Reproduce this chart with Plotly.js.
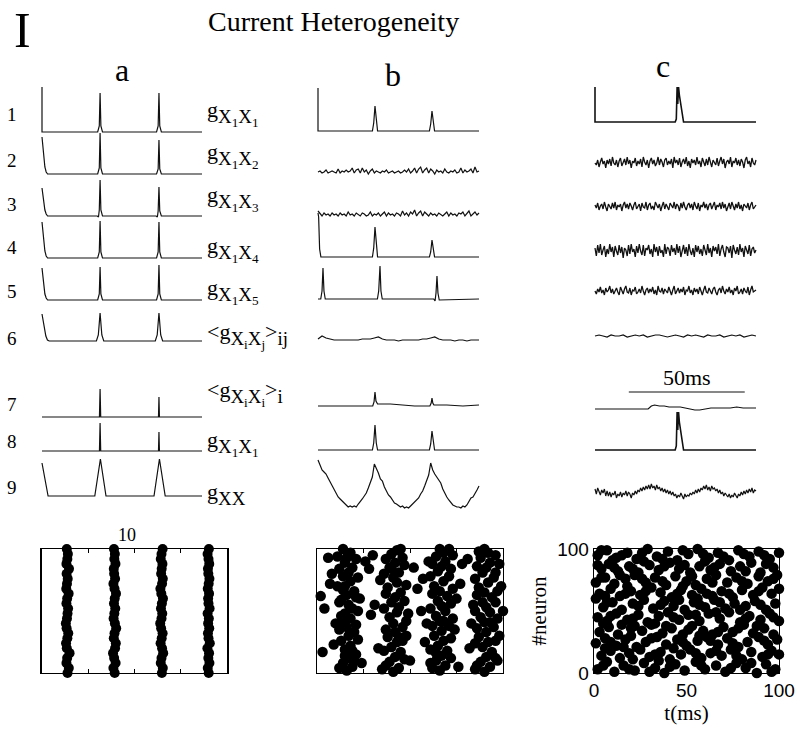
<!DOCTYPE html>
<html><head><meta charset="utf-8">
<script src="https://cdn.plot.ly/plotly-3.0.1.min.js"></script>
<style>body{margin:0;background:#fff}#chart{width:800px;height:735px}</style>
</head><body><div id="chart"></div>
<script>
// ================= DATA =================
const figureLetter = 'I';
const figureTitle = 'Current Heterogeneity';
const columnLetters = ['a','b','c'];
const rowNumbers = ['1','2','3','4','5','6','7','8','9'];
const conductanceLabels = [
  'g<sub>X<sub>1</sub>X<sub>1</sub></sub>',
  'g<sub>X<sub>1</sub>X<sub>2</sub></sub>',
  'g<sub>X<sub>1</sub>X<sub>3</sub></sub>',
  'g<sub>X<sub>1</sub>X<sub>4</sub></sub>',
  'g<sub>X<sub>1</sub>X<sub>5</sub></sub>',
  '&lt;g<sub>X<sub>i</sub>X<sub>j</sub></sub>&gt;<sub>ij</sub>',
  '&lt;g<sub>X<sub>i</sub>X<sub>i</sub></sub>&gt;<sub>i</sub>',
  'g<sub>X<sub>1</sub>X<sub>1</sub></sub>',
  'g<sub>XX</sub>'
];
const rasterALabel = '10';
const scaleBarLabel = '50ms';
const scaleBarStart = 21, scaleBarEnd = 93;   // in column-c time units
const rasterXTicks = [0,50,100];
const rasterYTicks = [0,100];
const rasterXTitle = 't(ms)';
const rasterYTitle = '#neuron';

// ---- column a (time 0-100, conductance in arbitrary units) ----
const a1_t = [0,0,34.8,35.8,36.3,36.8,37.8,71.6,72.6,73.1,73.6,74.6,100];
const a1_g = [45,0,0,6,39,6,0,0,6,39,6,0,0];
const a2_t = [0,0.6,1.2,1.8,2.6,3.5,34.8,35.8,36.3,36.8,37.8,71.6,72.6,73.1,73.6,74.6,100];
const a2_g = [37,26,15,7,2,0,0,6,41,6,0,0,5,34,5,0,0];
const a3_t = [0,0.6,1.2,1.8,2.6,3.5,34.5,35.3,35.8,36.3,36.8,37.8,71.3,72.1,72.6,73.1,73.6,74.6,100];
const a3_g = [28,20,12,6,2,0,0,-1,6,36,6,0,0,-1,5,29,5,0,0];
const a4_t = [0,0.6,1.2,1.8,2.6,3.5,34.8,35.8,36.3,36.8,37.8,71.6,72.6,73.1,73.6,74.6,100];
const a4_g = [36,26,15,7,2,0,0,6,37,6,0,0,6,36,6,0,0];
const a5_t = [0,0.6,1.2,1.8,2.6,3.5,34.8,35.8,36.3,36.8,37.8,71.6,72.6,73.1,73.6,74.6,100];
const a5_g = [32,23,13,6,2,0,0,6,33,6,0,0,6,35,6,0,0];
const a6_t = [0,0.8,1.6,2.4,3.4,4.5,34,35.2,36.3,37.4,38.6,70.8,72,73.1,74.2,75.4,100];
const a6_g = [27,19,11,5,1,0,0,6,28,6,0,0,6,28,6,0,0];
const a7_t = [0,35.9,36.3,36.7,72.8,73.1,73.4,100];
const a7_g = [0,0,28,0,0,20,0,0];
const a8_t = [0,35.9,36.3,36.7,72.8,73.1,73.4,100];
const a8_g = [0,0,28,0,0,19,0,0];
const a9_t = [0,3.8,33,36.5,40,70,73.4,77,100];
const a9_g = [33,0,0,37,0,0,37,0,0];

// ---- column b ----
const b1_t = [0,0,33.8,34.6,35.4,36.2,37,69.2,70,70.8,71.6,72.4,100];
const b1_g = [43,0,0,8,25,8,0,0,7,20,7,0,0];
const b2_dt = 1.25;
const b2_g = [0,1,-1,0,2,-1,0,1,0,-1, 3,-1,1,0,2,0,1,4,-1,2, 3,-1,4,0,2,-2,1,3,-1,1,
  0,-1,1,0,2,-1,0,1,-1,0, 1,-1,0,2,0,3,-1,1,4,-1, 3,5,-1,2,4,-1,3,1,-2,2,
  0,1,-1,3,0,-1,1,0,2,-1, 0,4,-1,2,0,1,3,-1,5,0, 1];
const b3_dt = 1.25;
const b3_g = [4,1,-1,2,0,1,-1,2,0,1, -1,2,0,1,-1,3,0,1,-1,2, 0,-1,2,1,-1,0,3,-1,1,0,
  2,-1,1,3,-1,2,0,1,-1,2, 1,-1,4,0,2,-1,3,1,5,-1, 2,4,-1,3,1,-1,2,0,1,-1,
  2,0,-1,1,3,-1,2,0,1,-1, 2,1,3,-1,2,4,-1,1,3,0, 2];
const b4_t = [0,0.4,1,1.8,33.8,34.6,35.4,36.2,37,69.2,70,70.8,71.6,72.4,100];
const b4_g = [44,40,8,0,0,9,30,9,0,0,5,17,5,0,0];
const b5_t = [0,1.7,2.5,3.1,3.7,4.5,36.9,37.7,38.5,39.1,39.9,71.9,72.7,73.3,73.9,74.5,75.3,100];
const b5_g = [0,0,8,31,8,0,0,8,33,8,0,0,-2,6,23,6,-1,0];
const b6_dt = 2.5;
const b6_g = [1,4,2,1,0,0,0,0,0,0,0,1,1,1,2,3,1,0,0,0,-1,0,0,0,0,0,1,1,2,3,1,0,0,0,-1,0,0,-1,0,0,0];
const b7_t = [0,34,34.8,35.4,36,37,45,55,60,69.5,70.3,70.8,71.3,72,80,90,100];
const b7_g = [0,0,4,14,5,2,2,1,0,0,3,8,3,1,1,0,1];
const b8_t = [0,33.8,34.6,35.4,36.2,37,69.2,70,70.8,71.6,72.4,100];
const b8_g = [0,0,7,25,7,0,0,6,19,6,0,0];
const b9_dt = 1.25;
const b9_g = [48,42,38,36,34,30,26,22,18,15,
  11,9,7,4,2,1,2,1,2,1,
  4,6,9,12,15,20,25,31,44,40,
  35,29,27,21,16,13,11,8,5,4,
  2,1,2,0,1,0,2,4,5,8,
  10,14,17,22,27,33,45,38,34,31,
  29,25,19,14,11,8,5,3,2,1,
  1,0,2,1,3,6,10,11,14,18,
  22];

// ---- column c ----
const c1_t = [0,0,1,49.8,50.5,51.0,51.4,51.9,52.4,53.1,54.0,55.0,100];
const c1_g = [35,0,0,0,3,35,18,35,27,20,8,0,0];
const c2_dt = 100/120;
const c2_g = [0,-2,3,-4,1,5,-1,2,-5,3, -1,4,-3,6,0,-2,3,-4,2,5, -3,1,4,-2,6,-1,3,-5,2,0,
  5,-3,2,-1,4,-4,6,1,-2,3, -5,2,5,-1,3,-3,0,6,-2,4, 1,-4,3,5,-2,2,-1,4,-5,6,
  0,3,-2,5,-4,1,4,-1,6,-3, 2,-5,4,0,3,-2,6,-1,2,-4, 5,1,-3,4,-2,6,0,-4,3,1,
  -2,5,-3,2,6,-1,4,-5,1,3, -1,6,-4,2,0,5,-2,3,-3,4, 1,-5,3,6,-1,2,-4,5,0,-2, 3];
const c3_dt = 100/120;
const c3_g = [2,-1,4,-3,1,3,-2,5,0,-4, 3,1,-2,4,-1,5,-3,2,0,3, -4,2,5,-1,3,-2,4,1,-3,2,
  5,-2,1,3,-4,4,0,-1,5,-3, 2,4,-2,1,-3,5,2,-1,3,-4, 1,5,-2,3,0,-3,4,2,-1,5,
  -2,3,1,-4,4,-1,5,0,-3,2, 4,-1,3,-3,5,1,-2,4,-4,2, 0,5,-1,3,-3,2,4,-2,1,5,
  -3,2,0,4,-2,5,-1,3,-4,1, 4,-2,5,1,-3,3,-1,5,-2,2, -4,3,1,-1,4,-3,2,5,-2,0, 2];
const c4_dt = 100/120;
const c4_g = [3,-5,6,-2,7,-4,1,5,-6,2, -3,7,-1,4,-6,5,0,-4,6,-2, 4,-7,3,1,-5,6,-3,7,-1,2,
  -6,5,-2,7,0,-4,6,-5,3,1, 6,-3,2,-6,7,-1,4,-5,5,-2, 1,-6,7,-3,4,2,-5,6,-1,3,
  -4,7,-2,5,-6,1,6,-3,4,-5, 7,0,-4,3,-6,6,-1,5,-3,2, -5,6,1,-4,7,-2,3,-6,5,0,
  4,-3,7,-5,2,6,-1,-6,4,3, -2,5,-7,6,1,-3,4,-4,7,-1, 3,-6,5,0,-3,6,-5,2,4,-2, 1];
const c5_dt = 100/120;
const c5_g = [1,-2,3,0,5,-1,2,-3,4,0, 2,6,-1,3,-2,1,4,0,-3,5, 1,-2,3,6,0,-1,4,-3,2,1,
  5,-2,0,3,-1,6,1,-3,2,4, -1,3,0,5,-2,2,-3,6,1,0, 4,-2,3,1,-1,5,0,-3,2,6,
  -2,1,4,-1,3,0,5,-3,2,1, 6,-1,2,-3,4,0,3,-2,5,1, -3,2,6,0,-1,4,1,-2,3,5,
  0,-3,2,4,-1,6,1,-2,3,0, 5,-1,2,-3,4,1,6,-2,0,3, -2,4,1,-1,5,-3,2,6,0,1, 2];
const c6_dt = 2.5;
const c6_g = [0,1,0,-1,1,0,0,1,-1,0, 1,0,1,-1,0,1,1,0,-1,0, 1,0,-1,1,0,1,0,-1,1,0,
  0,1,-1,0,1,0,1,-1,0,1, 0];
const c7_t = [0,33,35,37,40,43,46,50,53,56,59,62,65,68,72,76,80,84,88,92,96,100];
const c7_g = [0,0,3,4,3,3,2,2,2,1,0,-1,-1,0,1,1,1,1,2,1,1,1];
const c8_t = [0,49.8,50.5,51.0,51.4,51.9,52.4,53.1,54.0,55.0,100];
const c8_g = [0,0,4,38,20,38,28,20,8,0,0];
const c9_dt = 100/120;
const c9_g = [3,-2,4,0,-3,2,-1,3,-4,1, -4,0,-5,-1,-3,1,-6,-2,-4,0, -5,-1,-3,1,-4,0,-2,-6,-1,-3,
  1,-2,2,0,4,1,5,2,6,3, 7,3,8,4,6,2,7,3,5,1, 4,0,3,-1,2,-2,1,-3,0,-4,
  -2,-6,-3,-5,-1,-4,-7,-2,-5,-3, -4,-1,-3,0,-2,2,-1,3,0,4, 2,6,3,7,2,5,1,6,3,4,
  1,3,-1,2,-2,0,-4,-1,-3,-5, -2,-6,-3,-5,-1,-4,-6,-2,-4,0, -3,1,-2,2,-1,3,0,4,-1,2, 1];

// ---- raster a: four synchronous volleys (spike time of each listed neuron) ----
const rasterA_neurons = [0,4,8,12,16,20,24,28,32,36,40,44,48,52,56,60,64,68,72,76,80,84,88,92,96,100];
const rasterA_volley1 = [13.8,14.5,13.2,13.6,14.9,13.4,13.0,13.7,14.2,13.3,12.9,13.5,13.8,14.1,13.2,13.6,14.4,13.1,13.5,13.9,13.3,14.6,13.2,13.7,14.0,13.4];
const rasterA_volley2 = [39.3,38.6,39.8,39.0,38.4,39.5,39.9,38.8,39.2,40.1,39.4,38.7,39.1,39.6,38.9,39.3,40.0,39.2,38.6,39.5,39.0,38.8,39.7,39.1,39.4,38.9];
const rasterA_volley3 = [64.8,65.3,64.2,64.6,65.5,64.9,64.1,64.7,65.2,64.4,63.9,64.6,65.0,64.3,64.8,65.4,64.5,64.0,64.9,65.3,64.4,64.7,65.1,64.2,64.6,65.2];
const rasterA_volley4 = [90.1,89.6,90.5,89.9,90.3,89.4,90.7,90.0,89.7,90.4,89.8,90.2,89.5,90.6,90.0,89.8,90.3,89.6,90.1,90.5,89.9,89.7,90.4,90.0,89.5,90.2];

// ---- raster b: [time, neuron] ----
const rasterB_spikes = [
 [16,2],[19,5],[14,8],[17,12],[21,15],[15,19],[18,22],[13,26],[17,30],[20,33],[16,37],[14,41],[18,44],[15,48],[19,52],[17,55],[13,59],[16,63],[20,66],[15,70],[18,74],[14,78],[17,81],[19,85],[15,89],[16,93],[18,97],[14,100],
 [12,4],[20,10],[15,14],[22,27],[12,35],[21,39],[13,46],[22,50],[12,57],[21,61],[14,67],[22,77],[12,84],[21,92],[19,18],[11,94],
 [3,17],[2,62],[6,93],[8,80],[10,40],[4,52],[11,70],[24,8],[23,60],[9,23],[26,90],[7,72],
 [41,1],[44,4],[39,9],[42,13],[45,17],[40,21],[43,25],[38,29],[42,33],[46,37],[41,40],[39,45],[43,49],[44,53],[40,57],[42,61],[45,65],[38,69],[43,73],[41,77],[44,81],[39,85],[42,89],[46,93],[40,96],[43,99],
 [37,6],[47,11],[36,18],[46,26],[37,35],[48,42],[36,52],[47,58],[37,64],[48,71],[36,80],[47,87],[37,92],[45,100],[44,29],[40,84],
 [30,95],[33,20],[29,47],[34,75],[50,10],[52,85],[31,55],[48,30],[35,3],[54,68],[28,84],[49,48],
 [66,2],[69,6],[64,10],[67,14],[70,18],[65,22],[68,26],[63,30],[67,34],[71,38],[66,42],[64,46],[69,50],[67,54],[65,58],[70,62],[66,66],[63,70],[68,74],[71,78],[65,82],[67,86],[69,90],[64,94],[68,97],[66,100],
 [62,4],[72,12],[61,19],[72,28],[62,38],[73,44],[61,52],[72,56],[62,64],[73,68],[61,78],[72,84],[62,88],[71,100],[68,42],[64,16],
 [57,76],[58,25],[60,90],[76,5],[75,60],[78,88],[56,50],[74,35],[61,8],[77,72],[59,40],[73,95],
 [90,1],[93,5],[88,9],[91,13],[94,17],[89,21],[92,25],[87,29],[91,33],[95,37],[90,41],[88,45],[93,49],[91,53],[89,57],[94,61],[90,65],[87,69],[92,73],[95,77],[89,81],[91,85],[93,89],[88,93],[92,97],[90,100],
 [86,6],[96,12],[85,24],[96,26],[86,36],[97,44],[85,50],[96,57],[86,63],[97,66],[85,76],[96,81],[86,86],[96,95],[93,41],[87,98],
 [82,20],[84,55],[98,30],[99,70],[81,92],[97,10],[83,40],[100,50],[85,3],[98,88]
];

// ---- raster c: [time, neuron] ----
const rasterC_spikes = [
 [2,3],[7,9],[11,1],[16,6],[22,2],[27,8],[33,4],[38,0],[44,7],[49,2],[55,9],[60,3],[66,6],[71,1],[77,8],[82,4],[88,0],[93,7],[98,3],[35,10],
 [4,14],[9,18],[14,12],[19,16],[25,19],[30,13],[36,17],[41,11],[47,15],[52,19],[58,12],[63,16],[69,14],[74,19],[80,11],[85,17],[91,13],[96,18],[100,15],[21,11],
 [1,24],[6,28],[12,22],[17,27],[23,21],[28,25],[34,29],[39,23],[45,27],[50,22],[56,26],[61,29],[67,23],[72,28],[78,21],[83,25],[89,29],[94,23],[99,27],[43,20],
 [3,33],[8,37],[13,31],[20,36],[26,34],[31,39],[37,32],[42,36],[48,31],[53,38],[59,34],[64,31],[70,37],[75,33],[81,39],[86,32],[92,36],[97,31],[15,39],[57,30],
 [2,45],[7,42],[12,48],[18,43],[24,47],[29,41],[35,46],[40,49],[46,43],[51,47],[57,42],[62,48],[68,44],[73,49],[79,41],[84,46],[90,43],[95,48],[100,42],[33,40],
 [5,53],[10,57],[15,51],[21,56],[27,59],[32,52],[38,58],[43,54],[49,51],[54,57],[60,53],[65,59],[71,52],[76,56],[82,54],[87,58],[93,51],[98,56],[46,59],[1,60],
 [3,64],[9,68],[14,62],[20,66],[25,63],[31,69],[36,65],[42,61],[47,67],[53,63],[58,68],[64,62],[69,66],[75,61],[80,67],[86,63],[91,69],[96,64],[56,60],[18,70],
 [1,73],[6,77],[11,72],[17,76],[22,79],[28,73],[33,77],[39,71],[44,78],[50,74],[55,71],[61,76],[66,79],[72,73],[77,77],[83,72],[89,78],[94,74],[99,79],[48,70],
 [4,84],[8,88],[13,82],[19,86],[24,81],[30,87],[35,83],[41,89],[46,84],[52,81],[57,86],[63,83],[68,88],[74,82],[79,86],[85,89],[90,81],[97,85],[27,90],[60,90],
 [2,95],[7,99],[12,93],[18,97],[23,92],[29,100],[34,94],[40,98],[45,91],[51,96],[56,100],[62,93],[67,97],[73,91],[78,99],[84,94],[89,98],[95,92],[100,97],[10,91],
 [5,6],[19,3],[30,1],[41,5],[58,6],[74,4],[85,8],[96,1],
 [6,20],[16,21],[33,15],[55,16],[66,18],[77,14],[94,15],
 [9,25],[20,30],[31,28],[48,25],[63,26],[75,24],[92,26],
 [5,40],[22,38],[39,38],[51,35],[67,33],[78,36],[88,38],
 [9,46],[21,44],[43,45],[55,47],[66,49],[82,44],[97,45],
 [7,57],[24,54],[36,55],[57,55],[68,57],[79,51],[90,55],
 [6,62],[17,64],[28,66],[45,64],[61,64],[73,64],[89,66],[100,68],
 [4,77],[14,79],[26,76],[37,74],[53,78],[64,73],[80,74],[97,76],
 [2,87],[11,85],[21,84],[38,86],[49,87],[65,85],[82,82],[93,88],
 [4,99],[15,95],[26,97],[37,92],[48,99],[59,96],[70,94],[81,96],[92,95]
];

// ================= LAYOUT / DRAWING =================
const W = 800, H = 735;
const fx = p => p / W, fy = p => 1 - p / H;
const SERIF = 'Liberation Serif, Times New Roman, serif';
const SANS = 'Liberation Sans, Arial, sans-serif';
const INK = '#111';

const colSpan = [[42,202],[318,479],[595,756]];
const rowBase = [
  [132,174,216,258,300,341,417,451,496],
  [131,172,215,257,299,340,406,450,508],
  [122,163,207,251,292,336,409,450,492]
];
const panelData = [
  [{t:a1_t,g:a1_g},{t:a2_t,g:a2_g},{t:a3_t,g:a3_g},{t:a4_t,g:a4_g},{t:a5_t,g:a5_g},{t:a6_t,g:a6_g},{t:a7_t,g:a7_g},{t:a8_t,g:a8_g},{t:a9_t,g:a9_g}],
  [{t:b1_t,g:b1_g},{dt:b2_dt,g:b2_g},{dt:b3_dt,g:b3_g},{t:b4_t,g:b4_g},{t:b5_t,g:b5_g},{dt:b6_dt,g:b6_g},{t:b7_t,g:b7_g},{t:b8_t,g:b8_g},{dt:b9_dt,g:b9_g}],
  [{t:c1_t,g:c1_g},{dt:c2_dt,g:c2_g},{dt:c3_dt,g:c3_g},{dt:c4_dt,g:c4_g},{dt:c5_dt,g:c5_g},{dt:c6_dt,g:c6_g},{t:c7_t,g:c7_g},{t:c8_t,g:c8_g},{dt:c9_dt,g:c9_g}]
];

const traces = [];
const layout = {
  width: W, height: H, margin: {l:0, r:0, t:0, b:0},
  paper_bgcolor: '#fff', plot_bgcolor: 'rgba(0,0,0,0)',
  showlegend: false, annotations: [], shapes: [], hovermode: false
};
const axId = n => n === 1 ? '' : String(n);

let n = 0;
let c7AxisId = '';
for (let c = 0; c < 3; c++) {
  for (let r = 0; r < 9; r++) {
    n++;
    const p = panelData[c][r];
    const [x0, x1] = colSpan[c];
    const unit = (x1 - x0) / 100;
    const base = rowBase[c][r];
    let w = 1.2;
    if (c === 2 && (r === 0 || r === 7)) w = 1.6;
    if (c === 2 && r >= 1 && r <= 4) w = 1.3;
    const tr = {
      type: 'scatter', mode: 'lines', y: p.g,
      xaxis: 'x' + axId(n), yaxis: 'y' + axId(n),
      line: {color: INK, width: w},
      hoverinfo: 'skip'
    };
    if (p.t) tr.x = p.t; else { tr.x0 = 0; tr.dx = p.dt; }
    traces.push(tr);
    layout['xaxis' + axId(n)] = {domain: [fx(x0 - unit), fx(x1 + unit)], range: [-1, 101], visible: false, anchor: 'y' + axId(n), fixedrange: true};
    layout['yaxis' + axId(n)] = {domain: [fy(base + 14), fy(base - 50)], range: [-14, 50], visible: false, anchor: 'x' + axId(n), fixedrange: true};
    if (c === 2 && r === 6) c7AxisId = axId(n);
  }
}

// rasters
const rasterBoxes = [[42,227],[317,503],[594,779]];
const rasterTop = 549, rasterBottom = 673;
const rasterSets = [
  {x: [].concat(rasterA_volley1, rasterA_volley2, rasterA_volley3, rasterA_volley4),
   y: [].concat(rasterA_neurons, rasterA_neurons, rasterA_neurons, rasterA_neurons)},
  {x: rasterB_spikes.map(s => s[0]), y: rasterB_spikes.map(s => s[1])},
  {x: rasterC_spikes.map(s => s[0]), y: rasterC_spikes.map(s => s[1])}
];
for (let k = 0; k < 3; k++) {
  n++;
  traces.push({
    type: 'scatter', mode: 'markers', x: rasterSets[k].x, y: rasterSets[k].y,
    xaxis: 'x' + n, yaxis: 'y' + n, cliponaxis: false,
    marker: {color: '#000', size: k === 0 ? 10 : 10.5, line: {width: 0}}, hoverinfo: 'skip'
  });
  const isC = k === 2;
  layout['xaxis' + n] = {
    domain: [fx(rasterBoxes[k][0]), fx(rasterBoxes[k][1])], range: [0, 100], anchor: 'y' + n,
    showline: true, linecolor: '#000', linewidth: 1.3, mirror: 'ticks',
    showgrid: false, zeroline: false, ticks: 'inside', ticklen: 4, tickcolor: '#000',
    tickvals: isC ? rasterXTicks : [25, 50, 75], showticklabels: isC,
    tickfont: {family: SANS, size: 19, color: '#000'},
    title: isC ? {text: rasterXTitle, font: {family: SERIF, size: 21, color: '#000'}, standoff: 2} : {text: ''},
    fixedrange: true
  };
  layout['yaxis' + n] = {
    domain: [fy(rasterBottom), fy(rasterTop)], range: [0, 100], anchor: 'x' + n,
    showline: true, linecolor: '#000', linewidth: k === 0 ? 1.8 : 1.3, mirror: true,
    showgrid: false, zeroline: false, ticks: '',
    tickvals: isC ? rasterYTicks : [], showticklabels: isC,
    tickfont: {family: SANS, size: 19, color: '#000'},
    title: isC ? {text: rasterYTitle, font: {family: SERIF, size: 21, color: '#000'}, standoff: 4} : {text: ''},
    fixedrange: true
  };
}

// annotations
const ann = (text, x, y, size, opts) => Object.assign({
  text, x: fx(x), y: fy(y), xref: 'paper', yref: 'paper', showarrow: false,
  xanchor: 'center', yanchor: 'middle', font: {family: SERIF, size, color: '#000'}
}, opts || {});
layout.annotations.push(ann(figureLetter, 22, 30, 50));
layout.annotations.push(ann(figureTitle, 333, 22, 28));
const letterPos = [[122,70],[393,75],[663,66]];
columnLetters.forEach((l, i) => layout.annotations.push(ann(l, letterPos[i][0], letterPos[i][1], 32)));
const rowNumY = [115,160,205,248,292,338,405,442,487];
rowNumbers.forEach((l, i) => layout.annotations.push(ann(l, 12, rowNumY[i], 19)));
// main letter g at 22px, subscripts scaled from a 27px base
const styleLabel = l => l
  .replace(/^(&lt;)?g/, m => '<span style="font-size:22px">' + m + '</span>')
  .replace('&gt;', '<span style="font-size:22px">&gt;</span>');
const labelY = [113,155,198,249,291,335,394,443,494];
conductanceLabels.forEach((l, i) => layout.annotations.push(ann(styleLabel(l), 205, labelY[i], 27, {xanchor: 'left'})));
layout.annotations.push(ann(rasterALabel, 127, 535, 18));
layout.annotations.push(ann(scaleBarLabel, 687, 378, 22));
layout.shapes.push({type: 'line', xref: 'x' + c7AxisId, yref: 'paper', x0: scaleBarStart, x1: scaleBarEnd, y0: fy(392), y1: fy(392), line: {color: INK, width: 1.2}});

Plotly.newPlot('chart', traces, layout, {staticPlot: true, displayModeBar: false});
</script>
</body></html>
